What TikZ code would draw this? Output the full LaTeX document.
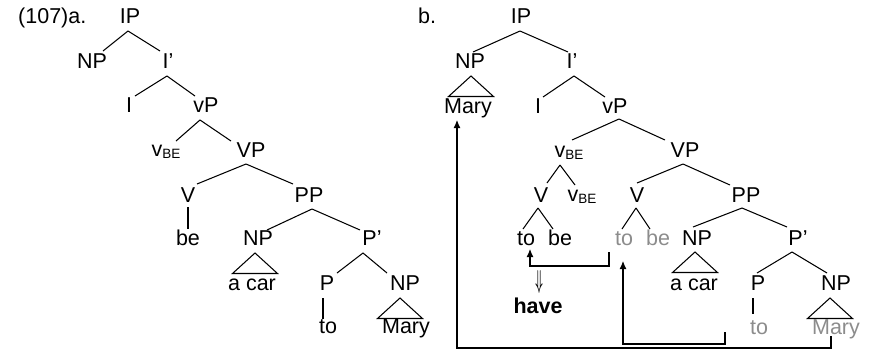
\documentclass[tikz,border=0pt]{standalone}
\usepackage{fontspec}
\setmainfont{Liberation Sans}
\usetikzlibrary{calc,arrows.meta}
\definecolor{ghost}{RGB}{140,140,140}
\newcommand\vbe{v\raisebox{-2.5pt}{\fontsize{13.5}{14}\selectfont BE}}
\newcommand\edg[4]{\draw[tline] ($(#1.base)+(#2)$) -- ($(#3.base)+(#4)$);}
\newcommand\tri[2]{\draw[tline] ($(#1.base)+(#2)$) -- +(-22.5,20.5) -- +(22.5,20.5) -- cycle;}
\begin{document}
\begin{tikzpicture}[x=1pt,y=-1pt,
  tline/.style={line width=1.05pt},
  lab/.style={inner sep=0pt,anchor=base,font=\fontsize{21.5}{24}\selectfont},
  ghostlab/.style={lab,text=ghost},
  arr/.style={line width=1.05pt,-{Latex[length=8pt,width=7pt]}}]
\useasboundingbox (0,0) rectangle (875,354);
% ---------- a ----------
\node[lab,anchor=base west] (ex) at (18,23) {(107)a.};
\node[lab] (IPa) at (130,23) {IP};
\node[lab] (NPa) at (92,68) {NP};
\node[lab] (Ipa) at (168,68) {I’};
\node[lab] (Ia) at (129,112) {I};
\node[lab] (vPa) at (206,112) {vP};
\node[lab] (vBEa) at (166,156) {\vbe};
\node[lab] (VPa) at (251,157) {VP};
\node[lab] (Va) at (188,202) {V};
\node[lab] (PPa) at (309,202) {PP};
\node[lab] (bea) at (188,245) {be};
\node[lab] (NPba) at (258,245) {NP};
\node[lab] (Pba) at (372,245) {P’};
\node[lab] (acara) at (252,290) {a car};
\node[lab] (Pa) at (327,290) {P};
\node[lab] (NPca) at (405,290) {NP};
\node[lab] (toa) at (328,333) {to};
\node[lab] (Marya) at (406,333) {Mary};
\edg{IPa}{-2,8}{NPa}{11,-17}
\edg{IPa}{-2,8}{Ipa}{-8,-17}
\edg{Ipa}{-1,8}{Ia}{6,-16}
\edg{Ipa}{-1,8}{vPa}{-11,-16}
\edg{vPa}{-6,8}{vBEa}{10,-15}
\edg{vPa}{-6,8}{VPa}{-20,-16}
\edg{VPa}{-5,7}{Va}{9,-18}
\edg{VPa}{-5,7}{PPa}{-16,-18}
\edg{Va}{0,5}{bea}{0,-16}
\edg{PPa}{3,7}{NPba}{9,-15}
\edg{PPa}{3,7}{Pba}{-12,-15}
\tri{NPba}{-3,8}
\edg{Pba}{-9,8}{Pa}{10,-17}
\edg{Pba}{-9,8}{NPca}{-18,-17}
\edg{Pa}{-4,8}{toa}{-5,-14}
\tri{NPca}{-5,8}
% ---------- b ----------
\node[lab,anchor=base west] (exb) at (418,23) {b.};
\node[lab] (IPb) at (521,23) {IP};
\node[lab] (NPb) at (470,68) {NP};
\node[lab] (Ipb) at (572,68) {I’};
\node[lab] (Maryb) at (468,113) {Mary};
\node[lab] (Ib) at (538,113) {I};
\node[lab] (vPb) at (615,113) {vP};
\node[lab] (vBEb) at (569,157) {\vbe};
\node[lab] (VPb) at (685,157) {VP};
\node[lab] (Vab) at (541,202) {V};
\node[lab] (vBEc) at (582,201) {\vbe};
\node[lab] (Vbb) at (637,202) {V};
\node[lab] (PPb) at (746,202) {PP};
\node[lab] (toab) at (526,245) {to};
\node[lab] (beab) at (560,245) {be};
\node[ghostlab] (tobb) at (624,245) {to};
\node[ghostlab] (bebb) at (658,245) {be};
\node[lab] (NPbb) at (697,245) {NP};
\node[lab] (Pbb) at (798,245) {P’};
\node[lab] (acarb) at (694,290) {a car};
\node[lab] (Pb) at (758,290) {P};
\node[lab] (NPcb) at (836,290) {NP};
\node[ghostlab] (tocb) at (759,334) {to};
\node[ghostlab] (Marycb) at (836,334) {Mary};
\node[inner sep=0pt] (dar) at (539,282.5) {\resizebox{7.5pt}{18pt}{\boldmath$\Downarrow$}};
\node[lab] (have) at (538,313) {\bfseries have};
\edg{IPb}{-1,8}{NPb}{3,-16}
\edg{IPb}{-1,8}{Ipb}{-4,-16}
\tri{NPb}{1,8}
\edg{Ipb}{2,8}{Ib}{5,-16}
\edg{Ipb}{2,8}{vPb}{-10,-16}
\edg{vPb}{4,6}{vBEb}{3,-17}
\edg{vPb}{4,6}{VPb}{-20,-17}
\edg{vBEb}{-9,8}{Vab}{6,-19}
\edg{vBEb}{-9,8}{vBEc}{-7,-16}
\edg{VPb}{-2,7}{Vbb}{0,-19}
\edg{VPb}{-2,7}{PPb}{-16,-17}
\edg{Vab}{-3,6}{toab}{-3,-16}
\edg{Vab}{-3,6}{beab}{-7,-16}
\edg{Vbb}{-1,6}{tobb}{-2,-16}
\edg{Vbb}{-1,6}{bebb}{-8,-16}
\edg{PPb}{-4,6}{NPbb}{-4,-18}
\edg{PPb}{-4,6}{Pbb}{-11,-18}
\tri{NPbb}{-2,7}
\edg{Pbb}{-6,7}{Pb}{-1,-17}
\edg{Pbb}{-6,7}{NPcb}{-9,-17}
\edg{Pb}{-5,8}{tocb}{-6,-20}
\tri{NPcb}{-6,8}
% ---------- movement arrows ----------
\coordinate (s1) at ($(tobb.base)+(-15,7)$);
\coordinate (s2) at ($(tocb.base)+(-34,-2)$);
\coordinate (s3) at ($(Marycb.base)+(-5,2)$);
\draw[arr] (s1) -- ++(0,14) -| ($(toab.base)+(4,4)$);
\draw[arr] (s2) -- ++(0,12) -| ($(tobb.base)+(-1,16)$);
\draw[arr] (s3) -- ++(0,12) -| ($(Maryb.base)+(-11,7)$);
\end{tikzpicture}
\end{document}
